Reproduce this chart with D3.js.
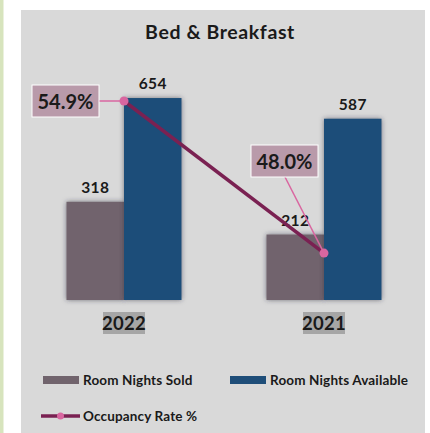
<!DOCTYPE html>
<html><head><meta charset="utf-8">
<script src="https://cdn.jsdelivr.net/npm/d3@7"></script>
<style>
html,body{margin:0;padding:0;background:#fff;}
svg{display:block;font-family:Lato,"Open Sans",sans-serif;}
</style></head>
<body>
<svg id="chart" width="430" height="433"></svg>
<script>
const categories = ["2022", "2021"];
const seriesNames = ["Room Nights Sold", "Room Nights Available"];
const roomNightsSold = [318, 212];
const roomNightsAvailable = [654, 587];
const occupancyRate = [0.549, 0.480];
const occupancyLabels = ["54.9%", "48.0%"];
const title = "Bed & Breakfast";
const lineName = "Occupancy Rate %";

const colors = {sold:"#71646d", avail:"#1f4e79", line:"#7a2152", dot:"#d966a0", box:"#b99aaa", panel:"#d9d9d9"};

const svg = d3.select("#chart");
const defs = svg.append("defs");
const f = defs.append("filter").attr("id","glow").attr("x","-20%").attr("y","-20%").attr("width","140%").attr("height","140%");
f.append("feDropShadow").attr("dx",0).attr("dy",0).attr("stdDeviation",2.5).attr("flood-color","#2e2e40").attr("flood-opacity",0.6);

// frame
svg.append("rect").attr("x",0).attr("y",0).attr("width",3.5).attr("height",433).attr("fill","#d7e4bd");
svg.append("rect").attr("x",21).attr("y",10).attr("width",404).attr("height",423).attr("fill",colors.panel);

svg.append("text").attr("x",220).attr("y",39).attr("text-anchor","middle")
  .attr("font-size",19.5).attr("font-weight",700).attr("letter-spacing",0.6).attr("fill","#1a1a1a").text(title);

const x0 = d3.scaleBand().domain(categories).range([24,424]).paddingInner(0.425).paddingOuter(0.2125);
const x1 = d3.scaleBand().domain(seriesNames).range([0, x0.bandwidth()]);
const y = d3.scaleLinear().domain([0,680]).range([300,90]);
const y2 = d3.scaleLinear().domain([0.4587,0.554]).range([300,90]);

const data = categories.map((c,i)=>({cat:c, vals:[{s:seriesNames[0],v:roomNightsSold[i],c:colors.sold},{s:seriesNames[1],v:roomNightsAvailable[i],c:colors.avail}]}));

const g = svg.append("g");
const groups = g.selectAll("g.cat").data(data).join("g").attr("transform",d=>`translate(${x0(d.cat)},0)`);
groups.selectAll("rect").data(d=>d.vals).join("rect")
  .attr("x",d=>x1(d.s)).attr("width",x1.bandwidth())
  .attr("y",d=>y(d.v)).attr("height",d=>y(0)-y(d.v))
  .attr("fill",d=>d.c).attr("filter","url(#glow)");
groups.selectAll("text.val").data(d=>d.vals).join("text").attr("class","val")
  .attr("x",d=>x1(d.s)+x1.bandwidth()/2).attr("y",d=>y(d.v)-9)
  .attr("text-anchor","middle").attr("font-size",15.5).attr("font-weight",700).attr("letter-spacing",0.3).attr("fill","#1a1a1a")
  .text(d=>d.v);

// category axis labels with highlight
categories.forEach(c=>{
  const cx = x0(c)+x0.bandwidth()/2;
  svg.append("rect").attr("x",cx-21).attr("y",312).attr("width",42).attr("height",22).attr("fill","#a6a6a6");
  svg.append("text").attr("x",cx).attr("y",330).attr("text-anchor","middle")
    .attr("font-size",18.5).attr("font-weight",700).attr("letter-spacing",0.3).attr("fill","#1a1a1a").text(c);
});

// line
const pts = categories.map((c,i)=>[x0(c)+x0.bandwidth()/2, y2(occupancyRate[i])]);
svg.append("path").attr("d",d3.line()(pts)).attr("fill","none").attr("stroke",colors.line).attr("stroke-width",3.5);

// label boxes + leaders
const boxes = [{x:32,y:85,lx:99,ly:101},{x:251,y:145,lx:285,ly:177}];
pts.forEach((p,i)=>{
  const b = boxes[i];
  svg.append("line").attr("x1",b.lx).attr("y1",b.ly).attr("x2",p[0]).attr("y2",p[1]).attr("stroke","#d966a0").attr("stroke-width",1.5);
});
pts.forEach((p,i)=>{
  svg.append("circle").attr("cx",p[0]).attr("cy",p[1]).attr("r",4.5).attr("fill",colors.dot);
});
pts.forEach((p,i)=>{
  const b = boxes[i];
  svg.append("rect").attr("x",b.x).attr("y",b.y).attr("width",67).attr("height",32).attr("fill",colors.box).attr("stroke","#fff").attr("stroke-width",1);
  svg.append("text").attr("x",b.x+33.5).attr("y",b.y+23.5).attr("text-anchor","middle")
    .attr("font-size",20).attr("font-weight",700).attr("fill","#1a1a1a").text(occupancyLabels[i]);
});

// legend
const leg = [{t:seriesNames[0],c:colors.sold,x:43,y:380},{t:seriesNames[1],c:colors.avail,x:230,y:380}];
leg.forEach(l=>{
  svg.append("rect").attr("x",l.x).attr("y",l.y-4).attr("width",36).attr("height",8).attr("fill",l.c);
  svg.append("text").attr("x",l.x+40).attr("y",l.y+5).attr("font-size",13.5).attr("font-weight",700).attr("letter-spacing",0.15).attr("fill","#1a1a1a").text(l.t);
});
svg.append("line").attr("x1",41).attr("x2",80).attr("y1",416).attr("y2",416).attr("stroke",colors.line).attr("stroke-width",3.5);
svg.append("circle").attr("cx",60.5).attr("cy",416).attr("r",3.5).attr("fill",colors.dot);
svg.append("text").attr("x",83).attr("y",421).attr("font-size",13.5).attr("font-weight",700).attr("letter-spacing",0.15).attr("fill","#1a1a1a").text(lineName);
</script>
</body></html>
